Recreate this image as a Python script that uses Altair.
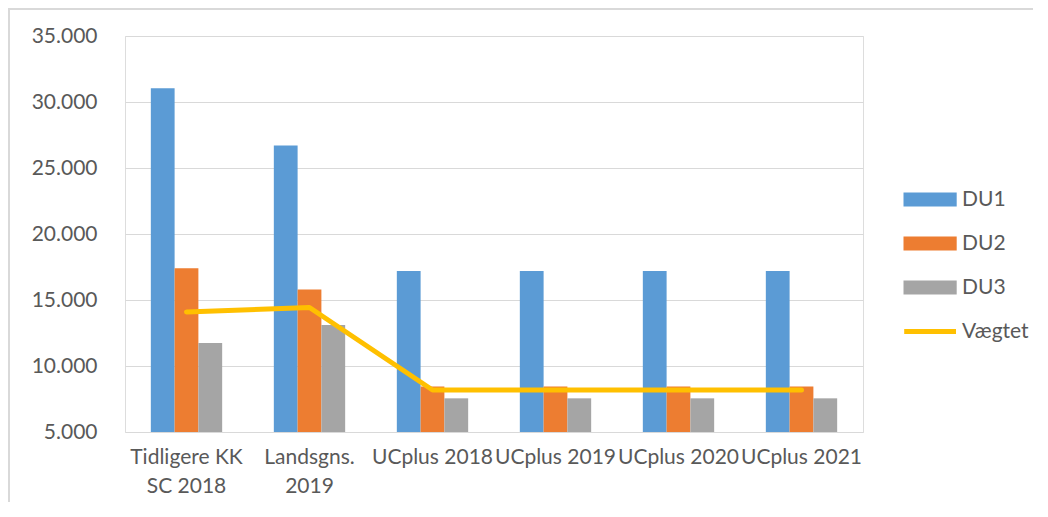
import altair as alt
import pandas as pd

categories = ["Tidligere KK SC 2018", "Landsgns. 2019", "UCplus 2018",
              "UCplus 2019", "UCplus 2020", "UCplus 2021"]
label_lines = [["Tidligere KK", "SC 2018"], ["Landsgns.", "2019"], ["UCplus 2018"],
               ["UCplus 2019"], ["UCplus 2020"], ["UCplus 2021"]]
du1 = [31050, 26700, 17200, 17200, 17200, 17200]
du2 = [17400, 15800, 8450, 8450, 8450, 8450]
du3 = [11750, 13100, 7550, 7550, 7550, 7550]
vaegtet = [14100, 14430, 8180, 8180, 8180, 8180]
series_names = ["DU1", "DU2", "DU3", "Vægtet"]
series_colors = ["#5b9bd5", "#ed7d31", "#a5a5a5", "#ffc000"]
y_ticks = [5000, 10000, 15000, 20000, 25000, 30000, 35000]

rows = []
for name, vals in zip(series_names[:3], [du1, du2, du3]):
    for c, v in zip(categories, vals):
        rows.append({"kategori": c, "serie": name, "vaerdi": v})
bars_df = pd.DataFrame(rows)
line_df = pd.DataFrame({"kategori": categories, "serie": "Vægtet", "vaerdi": vaegtet})

# label expression for wrapped category labels
parts = []
for c, lines in zip(categories, label_lines):
    arr = "[" + ", ".join("'" + s + "'" for s in lines) + "]"
    parts.append(f"datum.value == '{c}' ? {arr} : ")
x_label_expr = "".join(parts) + "datum.label"

FONT = "Lato"
TXT = "#595959"
W, H = 738, 396

x_scale = alt.Scale(domain=categories, paddingInner=0.42, paddingOuter=0.21)
y_scale = alt.Scale(domain=[5000, 35000], nice=False, zero=False)
color_scale = alt.Scale(domain=series_names, range=series_colors)

x_axis = alt.Axis(title=None, labelAngle=0, ticks=False, domain=False, grid=False,
                  labelFont=FONT, labelFontSize=21, labelColor=TXT,
                  labelPadding=14, labelLineHeight=29, labelOverlap=False,
                  labelExpr=x_label_expr, labelLimit=300)
y_axis = alt.Axis(title=None, values=y_ticks, ticks=False, domain=False,
                  grid=True, gridColor="#d9d9d9", gridWidth=1.2,
                  labelFont=FONT, labelFontSize=21, labelColor=TXT, labelPadding=28,
                  labelExpr="replace(format(datum.value, ',d'), ',', '.')")

legend = alt.Legend(
    title=None, orient="none", legendX=794.6, legendY=153,
    symbolType=alt.ExprRef("datum.value == 'Vægtet' ? 'M-1.85,0H1.85' : 'M-1.9,-0.5H1.9V0.5H-1.9Z'"),
    symbolSize=784,
    symbolStrokeWidth=alt.ExprRef("datum.value == 'Vægtet' ? 5 : 0"),
    symbolStrokeColor=alt.ExprRef("scale('color', datum.value)"),
    symbolFillColor=alt.ExprRef("datum.value == 'Vægtet' ? 'transparent' : scale('color', datum.value)"),
    symbolOpacity=1,
    labelFont=FONT, labelFontSize=21, labelColor=TXT, labelOffset=21.5,
    rowPadding=22, padding=0, labelLimit=200,
)

bars = alt.Chart(bars_df).mark_bar().encode(
    x=alt.X("kategori:N", scale=x_scale, axis=x_axis, sort=categories),
    xOffset=alt.XOffset("serie:N", sort=series_names[:3],
                        scale=alt.Scale(paddingInner=0, paddingOuter=0)),
    y=alt.Y("vaerdi:Q", scale=y_scale, axis=y_axis),
    y2=alt.datum(5000),
    color=alt.Color("serie:N", scale=color_scale, legend=legend, sort=series_names),
)

line = alt.Chart(line_df).mark_line(strokeWidth=5, strokeCap="round", strokeJoin="round").encode(
    x=alt.X("kategori:N", scale=x_scale, sort=categories),
    y=alt.Y("vaerdi:Q", scale=y_scale),
    color=alt.Color("serie:N", scale=color_scale, legend=legend, sort=series_names),
)

frame_df = pd.DataFrame({"a": [0]})
frame_top = alt.Chart(frame_df).mark_rule(color="#d9d9d9", strokeWidth=2).encode(
    x=alt.value(-117), x2=alt.value(W + 170), y=alt.value(-27))
frame_left = alt.Chart(frame_df).mark_rule(color="#d9d9d9", strokeWidth=2).encode(
    x=alt.value(-116), y=alt.value(-28), y2=alt.value(H + 70))

chart = alt.layer(bars, line, frame_top, frame_left).properties(
    width=W, height=H,
    autosize=alt.AutoSizeParams(type="none"),
    padding={"left": 117, "top": 28, "right": 170, "bottom": 70},
).configure_view(stroke=None).configure(background="white")

chart.save("out.html", embed_options={"renderer": "svg", "actions": False})
